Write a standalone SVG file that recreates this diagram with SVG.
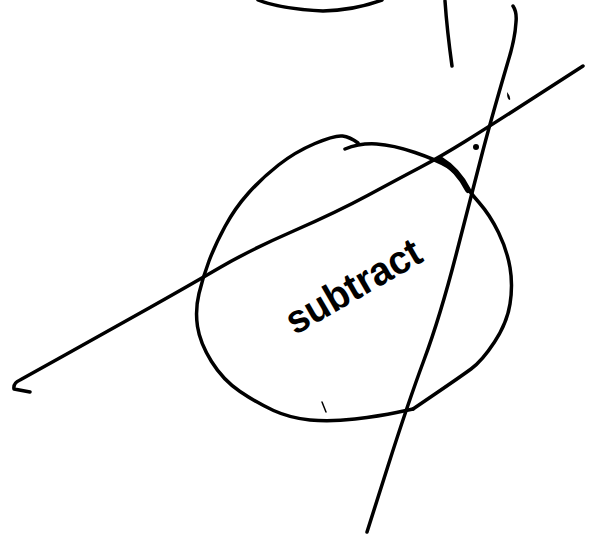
<svg xmlns="http://www.w3.org/2000/svg" width="592" height="535" viewBox="0 0 592 535">
<style>
.s{fill:none;stroke:#000;stroke-width:3.5;stroke-linecap:round;stroke-linejoin:round}
.t{font-family:"Liberation Sans",Arial,sans-serif;font-size:40px;font-weight:bold;fill:#000}
</style>
<rect width="592" height="535" fill="#fff"/>
<g id="connectors">
<path class="s" d="M258,0 Q280,9 323,11 Q355,10 382,0"/>
<path class="s" d="M445,1 Q447,30 452,66"/>
<path class="s" d="M513,6 Q517,12 516,22 Q515,40 507,65 Q490,123 481,158 Q472,193 456,255 Q440,317 424,360 Q408,403 387.5,467.5 L367,532"/>
<path class="s" d="M30,392 L14,389 Q13,383 20,380 L65,355 Q110,330 150,307.5 Q190,285 220,267.5 Q250,250 293.5,231 Q337,212 368.5,195 Q400,178 420,167.5 Q440,157 465,141.5 Q490,126 536.5,96 L583,66"/>
<path d="M507,92 Q511,97 510,100 Q507,100 507,92 Z" fill="#000"/>
<circle cx="476" cy="147" r="3" fill="#000"/>
</g>
<g id="subtract">
<path class="s" d="M413,409 L396.5,412.5 Q380,416 355,419 Q330,422 310,420 Q290,418 273.5,410.5 Q257,403 240,391.5 Q223,380 211.5,361.5 Q200,343 197.5,326.5 Q195,310 199,293.5 Q203,277 209,261 Q215,245 225,226.5 Q235,208 248.5,193 Q262,178 278.5,165 Q295,152 315,143.5 Q335,135 342.5,136 Q350,137 358,143"/>
<path class="s" d="M345,149 Q360,143 376.5,144 Q393,145 415,152.5 Q437,160 447.5,166.5 Q458,173 463,181.5 Q468,190 479,202.5 Q490,215 498.5,232.5 Q507,250 510,267.5 Q513,285 510,304 Q507,323 494.5,342 Q482,361 471,369 Q460,377 436.5,393 L413,409"/>
<path class="s" style="stroke-width:6" d="M440,159 Q458,170 468,190"/>
<path class="s" style="stroke-width:1.5" d="M322,402 L326,412"/>
<text class="t" x="360" y="298" text-anchor="middle" transform="rotate(-30 360 298)" textLength="150" lengthAdjust="spacingAndGlyphs">subtract</text>
</g>
</svg>
